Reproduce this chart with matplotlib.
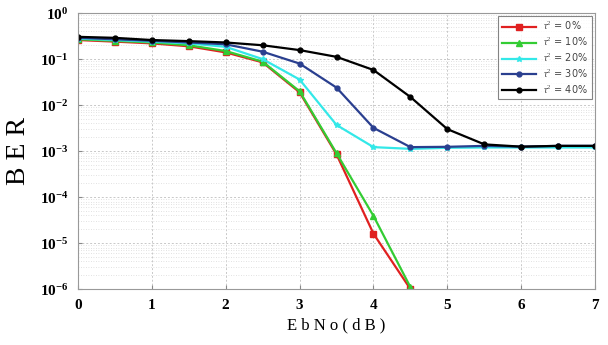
import numpy as np
import matplotlib
matplotlib.use("Agg")
import matplotlib.pyplot as plt
from matplotlib.ticker import FixedLocator, NullFormatter

# EbNo grid (dB)
ebno = [0, 0.5, 1, 1.5, 2, 2.5, 3, 3.5, 4, 4.5, 5, 5.5, 6, 6.5, 7]

ber_0 = [0.26, 0.24, 0.22, 0.19, 0.14, 0.085, 0.019, 0.00085, 1.6e-5, 1.0e-6]
ber_10 = [0.27, 0.25, 0.23, 0.20, 0.15, 0.088, 0.020, 0.0009, 3.9e-5, 1.1e-6]
ber_20 = [0.28, 0.26, 0.24, 0.22, 0.185, 0.10, 0.036, 0.0037, 0.00122, 0.00112,
          0.00118, 0.0012, 0.0012, 0.0012, 0.0012]
ber_30 = [0.29, 0.27, 0.25, 0.23, 0.21, 0.145, 0.08, 0.024, 0.0032, 0.00122,
          0.00124, 0.0013, 0.00125, 0.0013, 0.0013]
ber_40 = [0.305, 0.29, 0.26, 0.246, 0.23, 0.20, 0.157, 0.112, 0.058, 0.015,
          0.003, 0.0014, 0.00125, 0.0013, 0.0013]

exponents = [-6, -5, -4, -3, -2, -1, 0]
labels = [r"$\tau^2$ = 0%", r"$\tau^2$ = 10%", r"$\tau^2$ = 20%",
          r"$\tau^2$ = 30%", r"$\tau^2$ = 40%"]

plt.rcParams["mathtext.fontset"] = "custom"
plt.rcParams["mathtext.rm"] = "Liberation Serif"
plt.rcParams["mathtext.it"] = "Liberation Serif:italic"
plt.rcParams["mathtext.bf"] = "Liberation Serif:bold"

fig = plt.figure(figsize=(6.08, 3.45), dpi=100)
ax = fig.add_axes([0.128, 0.162, 0.851, 0.800])

series = [
    (ber_0, "#e02020", "s", 4),
    (ber_10, "#33cc33", "^", 4),
    (ber_20, "#33e8e8", "*", 4),
    (ber_30, "#2a3f8f", "o", 3.5),
    (ber_40, "#000000", "o", 3.5),
]
for (vals, color, marker, ms), lab in zip(series, labels):
    ax.semilogy(ebno[:len(vals)], vals, color=color, marker=marker,
                markersize=ms, linewidth=1.6, label=lab)

ax.set_xlim(0, 7)
ax.set_ylim(1e-6, 1)
ax.xaxis.set_major_locator(FixedLocator(range(8)))
ax.yaxis.set_major_locator(FixedLocator([10.0 ** e for e in exponents]))
minors = [m * 10.0 ** e for e in exponents[:-1] for m in range(2, 10)]
ax.yaxis.set_minor_locator(FixedLocator(minors))
ax.yaxis.set_minor_formatter(NullFormatter())
ax.set_yticklabels([r"$\mathbf{10^{%d}}$" % e for e in exponents])

ax.grid(True, which="major", color="#c8c8c8", linestyle=(0, (2, 2)), linewidth=0.7)
ax.grid(True, which="minor", axis="y", color="#d8d8d8", linestyle=(0, (1, 2)), linewidth=0.6)

for tl in ax.get_xticklabels():
    tl.set_fontfamily("Liberation Serif")
    tl.set_fontweight("bold")
ax.tick_params(axis="both", which="major", labelsize=11, direction="in",
               length=3, color="#888888", pad=7)
ax.tick_params(axis="y", which="minor", length=0)
for sp in ax.spines.values():
    sp.set_color("#999999")

ax.set_xlabel("E b N o ( d B )", fontfamily="Liberation Serif", fontsize=12, labelpad=4)
ax.set_ylabel("B E R", fontfamily="Liberation Serif", fontsize=20, labelpad=6)

leg = ax.legend(loc="upper right", fontsize=7, handlelength=3.5, frameon=True,
                fancybox=False, borderaxespad=0.3, labelspacing=0.35)
leg.get_frame().set_edgecolor("#666666")
leg.get_frame().set_linewidth(0.8)
for t in leg.get_texts():
    t.set_color("#444444")

fig.savefig("out.png", dpi=100)
